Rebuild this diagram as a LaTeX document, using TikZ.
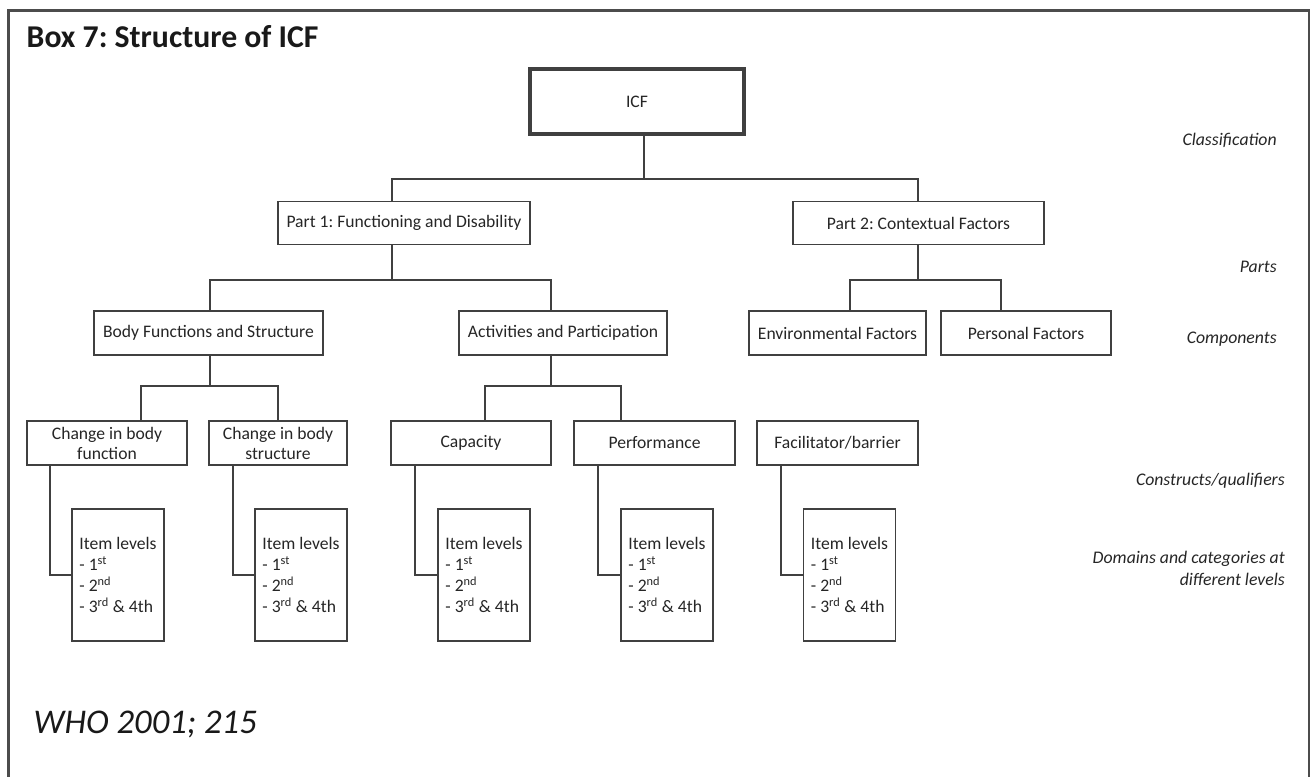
\documentclass[tikz,border=0pt]{standalone}
\usepackage{fontspec}
\setmainfont{Carlito}
\usetikzlibrary{calc}
\begin{document}
\frenchspacing
\begin{tikzpicture}[x=0.75pt,y=-0.75pt,
  every node/.style={font=\fontsize{13.2}{15}\selectfont, text=black!85},
  bx/.style 2 args={draw=black!75, line width=1.3pt, inner sep=0pt, align=center,
     minimum width={#1*0.75pt}, minimum height={#2*0.75pt}},
  itembox/.style={draw=black!75, line width=1.3pt, align=left, inner xsep={7*0.75pt},
     minimum width={92*0.75pt}, minimum height={132*0.75pt},
     font=\fontsize{13.2}{15.75}\selectfont},
  conn/.style={draw=black!75, line width=1.1pt},
  lvl/.style={font=\fontsize{13.3}{16.5}\selectfont\itshape, anchor=east, align=right, inner sep=0pt}
]
\useasboundingbox (0,0) rectangle (1312,776);
\fill[white] (0,0) rectangle (1312,776);
% frame
\draw[draw=black!70, line width=2.2pt] (8.5,780) -- (8.5,10.5) -- (1309,10.5) -- (1309,780);
% title
\node[anchor=west, font=\fontsize{23.8}{26}\selectfont\bfseries, text=black!90] (title) at (22,37) {Box 7: Structure of ICF};
\node[anchor=west, font=\fontsize{26}{30}\selectfont\itshape, text=black!90] (who) at (29,724) {WHO 2001; 215};

% boxes
\node[bx={214}{65}, line width=2.7pt] (icf) at (637,101.5) {ICF};
\node[bx={252}{43}] (p1) at (404,223) {Part 1: Functioning and Disability};
\node[bx={251}{43}] (p2) at (918.5,223) {Part 2: Contextual Factors};
\node[bx={229}{44}] (bfs) at (208.5,333) {Body Functions and Structure};
\node[bx={208}{44}] (ap) at (563,333) {Activities and Participation};
\node[bx={177}{44}] (env) at (837.5,333) {Environmental Factors};
\node[bx={170}{44}] (pers) at (1026,333) {Personal Factors};
\node[bx={160}{44}] (cbf) at (107,443) {Change in body\\function};
\node[bx={138}{44}] (cbs) at (278,443) {Change in body\\structure};
\node[bx={160}{44}] (cap) at (471,443) {Capacity};
\node[bx={161}{44}] (perf) at (654.5,443) {Performance};
\node[bx={161}{44}] (fac) at (837.5,443) {Facilitator/barrier};

\newcommand{\itemtext}{Item levels\\- 1\textsuperscript{st}\\- 2\textsuperscript{nd}\\- 3\textsuperscript{rd} \& 4th}
\node[itembox] (i1) at (118,575) {\itemtext};
\node[itembox] (i2) at (301,575) {\itemtext};
\node[itembox] (i3) at (484,575) {\itemtext};
\node[itembox] (i4) at (667,575) {\itemtext};
\node[itembox] (i5) at (849.5,575) {\itemtext};

% level labels
\node[lvl] (l1) at (1277,140) {Classification};
\node[lvl] (l2) at (1277,267) {Parts};
\node[lvl] (l3) at (1277,339) {Components};
\node[lvl] (l4) at (1285,481) {Constructs/qualifiers};
\node[lvl] (l5) at (1285,568) {Domains and categories at\\different levels};

% connectors
\coordinate (j0) at (644,179);
\coordinate (c1) at (392,179);
\coordinate (c2) at (918,179);
\draw[conn] (icf.south -| j0) -- (j0);
\draw[conn] (p1.north -| c1) -- (c1) -- (c2) -- (p2.north -| c2);

\coordinate (d0) at (392,280);
\coordinate (d1) at (210,280);
\coordinate (d2) at (551,280);
\draw[conn] (p1.south -| d0) -- (d0);
\draw[conn] (bfs.north -| d1) -- (d1) -- (d2) -- (ap.north -| d2);

\coordinate (e0) at (918,280);
\coordinate (e1) at (850,280);
\coordinate (e2) at (1001,280);
\draw[conn] (p2.south -| e0) -- (e0);
\draw[conn] (env.north -| e1) -- (e1) -- (e2) -- (pers.north -| e2);

\coordinate (f0) at (210,386);
\coordinate (f1) at (141,386);
\coordinate (f2) at (278,386);
\draw[conn] (bfs.south -| f0) -- (f0);
\draw[conn] (cbf.north -| f1) -- (f1) -- (f2) -- (cbs.north -| f2);

\coordinate (g0) at (551,386);
\coordinate (g1) at (485,386);
\coordinate (g2) at (621,386);
\draw[conn] (ap.south -| g0) -- (g0);
\draw[conn] (cap.north -| g1) -- (g1) -- (g2) -- (perf.north -| g2);

\coordinate (k1) at (50,0);
\coordinate (k2) at (233,0);
\coordinate (k3) at (415,0);
\coordinate (k4) at (598,0);
\coordinate (k5) at (781,0);
\draw[conn] (cbf.south -| k1) |- (i1.west);
\draw[conn] (cbs.south -| k2) |- (i2.west);
\draw[conn] (cap.south -| k3) |- (i3.west);
\draw[conn] (perf.south -| k4) |- (i4.west);
\draw[conn] (fac.south -| k5) |- (i5.west);
\end{tikzpicture}
\end{document}
